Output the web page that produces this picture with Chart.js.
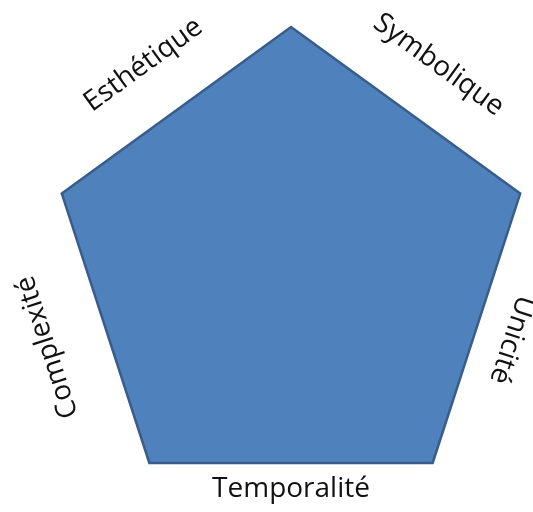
<!DOCTYPE html>
<html>
<head>
<meta charset="utf-8">
<script src="https://cdn.jsdelivr.net/npm/chart.js@4"></script>
<style>
	html, body { margin: 0; padding: 0; background: #fff; }
	#wrap { width: 533px; height: 512px; }
</style>
</head>
<body>
<div id="wrap"><canvas id="chart" width="533" height="512"></canvas></div>
<script>
// edge labels: label i sits on the edge between vertex i and vertex i+1
const categories = ['Symbolique', 'Unicité', 'Temporalité', 'Complexité', 'Esthétique'];
const values = [1, 1, 1, 1, 1];

// draws the category labels along the polygon edges, rotated like the edge
const edgeLabels = {
	id: 'edgeLabels',
	afterDraw(chart, args, opts) {
		const scale = chart.scales.r;
		const ctx = chart.ctx;
		const n = chart.data.labels.length;
		const cx = scale.xCenter;
		const cy = scale.yCenter;

		ctx.save();
		ctx.font = opts.font;
		ctx.fillStyle = opts.color;
		ctx.textAlign = 'center';
		ctx.textBaseline = 'middle';

		for (let i = 0; i < n; i++) {
			const a = scale.getPointPositionForValue(i, scale.max);
			const b = scale.getPointPositionForValue((i + 1) % n, scale.max);
			const mx = (a.x + b.x) / 2;
			const my = (a.y + b.y) / 2;
			const len = Math.hypot(mx - cx, my - cy);
			const ux = (mx - cx) / len;
			const uy = (my - cy) / len;
			const gap = opts.gaps[i];

			let angle = Math.atan2(uy, ux) + Math.PI / 2;
			if (angle > Math.PI) {
				angle -= 2 * Math.PI;
			}
			if (Math.abs(angle) > 0.75 * Math.PI) {
				angle += Math.PI;
			}

			ctx.save();
			ctx.translate(mx + ux * gap, my + uy * gap);
			ctx.rotate(angle);
			ctx.fillText(chart.data.labels[i], 0, 0);
			ctx.restore();
		}
		ctx.restore();
	}
};

new Chart(document.getElementById('chart').getContext('2d'), {
	type: 'radar',
	data: {
		labels: categories,
		datasets: [{
			data: values,
			backgroundColor: '#4f81bd',
			borderColor: '#385d8a',
			borderWidth: 2.5,
			pointRadius: 0,
			fill: true,
			clip: false
		}]
	},
	options: {
		responsive: false,
		animation: false,
		layout: {
			padding: {top: 27, bottom: 3, left: 50, right: 1}
		},
		scales: {
			r: {
				min: 0,
				max: 1,
				ticks: {display: false},
				grid: {display: false},
				angleLines: {display: false},
				pointLabels: {display: false}
			}
		},
		plugins: {
			legend: {display: false},
			tooltip: {enabled: false},
			edgeLabels: {
				font: '28px "Open Sans"',
				color: '#111',
				gaps: [56, 37, 26, 61, 56]
			}
		}
	},
	plugins: [edgeLabels]
});
</script>
</body>
</html>
